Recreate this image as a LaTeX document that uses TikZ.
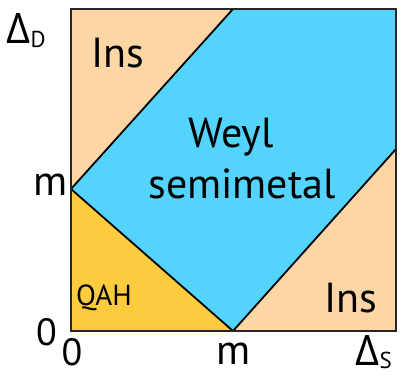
\documentclass[tikz,border=0pt]{standalone}
\usepackage{fontspec}
\setmainfont{PT Sans}
\newfontfamily\grk{Open Sans}
\definecolor{peach}{RGB}{254,214,166}
\definecolor{weylblue}{RGB}{84,212,252}
\definecolor{qahgold}{RGB}{253,203,62}
\begin{document}
\begin{tikzpicture}[x=1pt,y=-1pt,
  region/.style={draw=black,line width=1.8pt,line join=round},
  big/.style={inner sep=0pt,font=\fontsize{42}{44}\selectfont},
  axlab/.style={inner sep=0pt,font=\fontsize{38}{40}\selectfont},
  sub/.style={inner sep=0pt,font=\fontsize{23}{25}\selectfont}]
\useasboundingbox (0,0) rectangle (404,375);
% corners and breakpoints
\coordinate (O) at (71,331);
\coordinate (TL) at (71,9);
\coordinate (TR) at (396,9);
\coordinate (BR) at (396,331);
\coordinate (mY) at (71,189);
\coordinate (mX) at (233,331);
\coordinate (top) at (233,9);
\coordinate (rt) at (396,149);
% regions
\fill[weylblue] (mY) -- (top) -- (TR) -- (rt) -- (mX) -- cycle;
\fill[peach] (mY) -- (TL) -- (top) -- cycle;
\fill[peach] (mX) -- (BR) -- (rt) -- cycle;
\fill[qahgold] (mY) -- (mX) -- (O) -- cycle;
\draw[region] (mY) -- (top);
\draw[region] (mY) -- (mX) -- (rt);
\draw[draw=black!85,line width=2.2pt] (TL) rectangle (BR);
% labels inside
\node[big,anchor=base west] (ins1) at (91,67) {Ins};
\node[big,anchor=base] (weyl) at (231,147) {Weyl};
\node[big,anchor=base] (semi) at (242,198) {semimetal};
\node[inner sep=0pt,font=\fontsize{29}{31}\selectfont,anchor=base west] (qah) at (76,305) {QAH};
\node[big,anchor=base west] (ins2) at (324,312) {Ins};
% axis labels
\node[big,anchor=base west] (dD) at (6,43) {\grk\fontsize{42}{44}\selectfont Δ};
\node[sub,anchor=base west] (dDs) at (dD.base east) {\raisebox{-4pt}{D}};
\node[big,anchor=base east] (mYl) at (68,195) {m};
\node[axlab,anchor=base east] (zY) at (57,345) {0};
\node[axlab,anchor=base] (zX) at (72,365) {0};
\node[big,anchor=base] (mXl) at (234,364) {m};
\node[big,anchor=base west] (dS) at (355,365) {\grk\fontsize{42}{44}\selectfont Δ};
\node[sub,anchor=base west] (dSs) at (dS.base east) {\raisebox{-3pt}{S}};
\end{tikzpicture}
\end{document}
